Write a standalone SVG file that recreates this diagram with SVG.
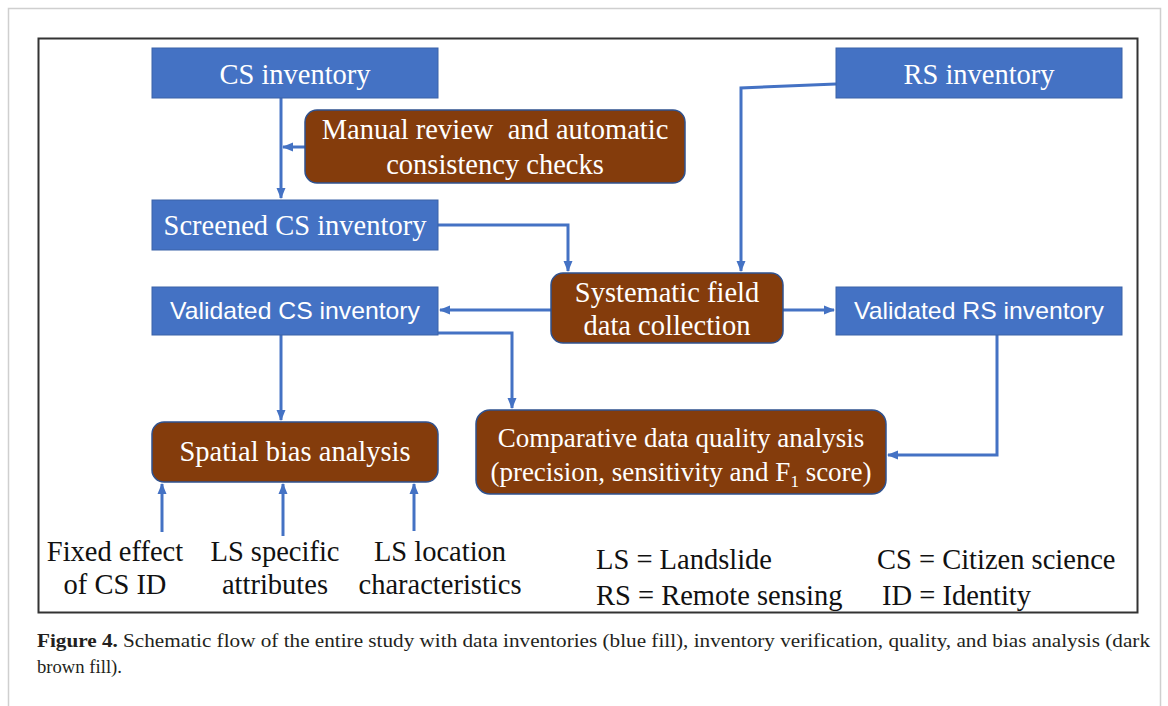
<svg xmlns="http://www.w3.org/2000/svg" width="1168" height="706" viewBox="0 0 1168 706">
<defs>
<style>
.blue{fill:#4472C4;stroke:#3A62A8;stroke-width:1}
.brown{fill:#843C0C;stroke:#2F528F;stroke-width:1.5}
.t{font-family:"Liberation Serif","Times New Roman",serif;font-size:28.5px;fill:#fff;text-anchor:middle}
.s{font-family:"Liberation Sans",Arial,sans-serif;font-size:24px;fill:#fff;text-anchor:middle}
.k{font-family:"Liberation Serif","Times New Roman",serif;font-size:28.5px;fill:#111;text-anchor:middle}
.kl{font-family:"Liberation Serif","Times New Roman",serif;font-size:28.5px;fill:#111}
.c{fill:none;stroke:#4472C4;stroke-width:3}
.cap{font-family:"Liberation Serif","Times New Roman",serif;font-size:19px;fill:#231F20}
</style>
<marker id="ah" markerWidth="12" markerHeight="12" refX="10" refY="6" orient="auto" markerUnits="userSpaceOnUse">
<path d="M0,1.5 L11,6 L0,10.5 Z" fill="#4472C4"/>
</marker>
</defs>
<rect width="1168" height="706" fill="#fff"/>
<path d="M8.5,706 V8.5 H1160.5 V706" fill="none" stroke="#cfcfcf" stroke-width="1.5"/>
<rect x="38.5" y="38.5" width="1099" height="574" fill="#fff" stroke="#333" stroke-width="2"/>

<g id="connectors">
<path class="c" marker-end="url(#ah)" d="M281,98 V198"/>
<path class="c" marker-end="url(#ah)" d="M305,147 H283"/>
<path class="c" marker-end="url(#ah)" d="M438,225 H568 V271"/>
<path class="c" marker-end="url(#ah)" d="M836,84 L741,88 V271"/>
<path class="c" marker-end="url(#ah)" d="M551,310 H440"/>
<path class="c" marker-end="url(#ah)" d="M783,310 H834"/>
<path class="c" marker-end="url(#ah)" d="M438,333 H512 V408"/>
<path class="c" marker-end="url(#ah)" d="M281,335 V420"/>
<path class="c" marker-end="url(#ah)" d="M997,335 V455 H888"/>
<path class="c" marker-end="url(#ah)" d="M162,532 V484"/>
<path class="c" marker-end="url(#ah)" d="M283,536 V484"/>
<path class="c" marker-end="url(#ah)" d="M414,531 V484"/>
</g>

<g id="cs-inventory"><rect class="blue" x="152" y="48" width="286" height="50"/><text class="t" x="295" y="84">CS inventory</text></g>
<g id="rs-inventory"><rect class="blue" x="836" y="48" width="286" height="50"/><text class="t" x="979" y="84">RS inventory</text></g>
<g id="manual-review"><rect class="brown" x="305" y="110" width="380" height="73" rx="12"/><text class="t" x="495" y="139">Manual review&#160; and automatic</text><text class="t" x="495" y="174">consistency checks</text></g>
<g id="screened-cs"><rect class="blue" x="152" y="200" width="286" height="50"/><text class="t" x="295" y="235">Screened CS inventory</text></g>
<g id="systematic-field"><rect class="brown" x="551" y="273" width="232" height="70" rx="12"/><text class="t" x="667" y="302">Systematic field</text><text class="t" x="667" y="335">data collection</text></g>
<g id="validated-cs"><rect class="blue" x="152" y="287" width="286" height="48"/><text class="s" x="295" y="319" textLength="250" lengthAdjust="spacingAndGlyphs">Validated CS inventory</text></g>
<g id="validated-rs"><rect class="blue" x="836" y="287" width="286" height="48"/><text class="s" x="979" y="319" textLength="250" lengthAdjust="spacingAndGlyphs">Validated RS inventory</text></g>
<g id="spatial-bias"><rect class="brown" x="152" y="422" width="286" height="60" rx="12"/><text class="t" x="295" y="461">Spatial bias analysis</text></g>
<g id="comparative"><rect class="brown" x="476" y="410" width="410" height="84" rx="14"/><text class="t" x="681" y="447" style="font-size:27px">Comparative data quality analysis</text><text class="t" x="681" y="481" style="font-size:27px">(precision, sensitivity and F<tspan font-size="17" dy="6">1</tspan><tspan dy="-6"> score)</tspan></text></g>

<g id="fixed-effect"><text class="k" x="115" y="561">Fixed effect</text><text class="k" x="115" y="594">of CS ID</text></g>
<g id="ls-specific"><text class="k" x="275" y="561">LS specific</text><text class="k" x="275" y="594">attributes</text></g>
<g id="ls-location"><text class="k" x="440" y="561">LS location</text><text class="k" x="440" y="594">characteristics</text></g>

<g id="legend">
<text class="kl" x="596" y="569">LS = Landslide</text>
<text class="kl" x="596" y="605">RS = Remote sensing</text>
<text class="kl" x="877" y="569">CS = Citizen science</text>
<text class="kl" x="882" y="605">ID = Identity</text>
</g>

<g id="caption">
<text class="cap" x="37" y="647" textLength="1113" lengthAdjust="spacingAndGlyphs"><tspan font-weight="bold">Figure 4.</tspan> Schematic flow of the entire study with data inventories (blue fill), inventory verification, quality, and bias analysis (dark</text>
<text class="cap" x="37" y="673" textLength="85" lengthAdjust="spacingAndGlyphs">brown fill).</text>
</g>
</svg>
